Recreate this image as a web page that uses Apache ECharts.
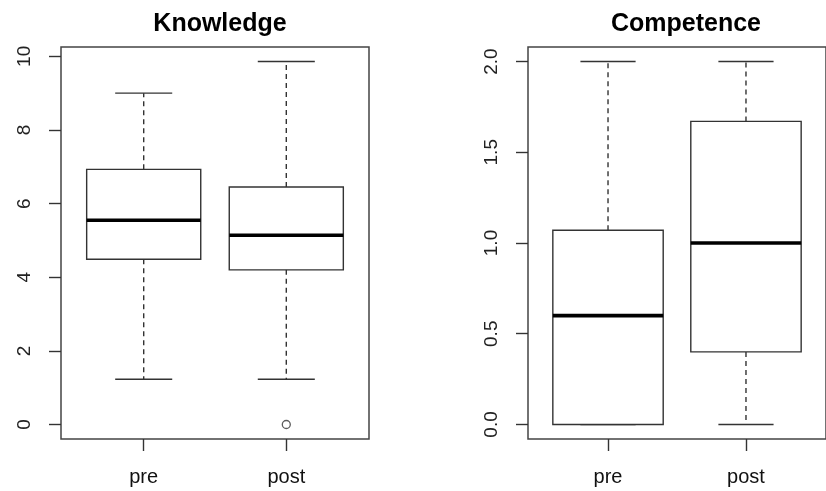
<!DOCTYPE html>
<html>
<head>
<meta charset="utf-8">
<script src="https://cdn.jsdelivr.net/npm/echarts@6/dist/echarts.min.js"></script>
<style>
  html, body { margin: 0; padding: 0; background: #fff; }
  #chart { width: 826px; height: 491px; }
</style>
</head>
<body>
<div id="chart"></div>
<script>
// Group labels and their positions on the x axis
const categories = ['pre', 'post'];
const positions = [1, 2];

// Five-number summaries: [lower whisker, Q1, median, Q3, upper whisker]
const knowledgePre = [1.23, 4.49, 5.55, 6.93, 9.0];
const knowledgePost = [1.23, 4.2, 5.14, 6.45, 9.86];
const knowledgeOutliers = [[2, 0]];

const competencePre = [0, 0, 0.6, 1.07, 2.0];
const competencePost = [0, 0.4, 1.0, 1.67, 2.0];

// Tick positions
const knowledgeTicks = [0, 2, 4, 6, 8, 10];
const competenceTicks = [0, 0.5, 1, 1.5, 2];

const lineColor = '#333';
const frameColor = '#444';
const font = '"Liberation Sans", Arial, sans-serif';

// Box-and-whisker glyph drawn through the axis scales
function renderBox(params, api) {
  const x = api.value(0);
  const lo = api.value(1), q1 = api.value(2), med = api.value(3), q3 = api.value(4), hi = api.value(5);
  const half = api.size([0.8, 0])[0] / 2;
  const capHalf = half / 2;
  const c = (v) => api.coord([x, v]);
  const pLo = c(lo), pQ1 = c(q1), pMed = c(med), pQ3 = c(q3), pHi = c(hi);
  const cx = pMed[0];
  const dashed = { stroke: lineColor, lineWidth: 1.4, lineDash: [5, 4], fill: null };
  const solid = { stroke: lineColor, lineWidth: 1.4, fill: null };
  const children = [];
  if (hi > q3) {
    children.push({ type: 'line', shape: { x1: cx, y1: pQ3[1], x2: cx, y2: pHi[1] }, style: dashed });
  }
  if (lo < q1) {
    children.push({ type: 'line', shape: { x1: cx, y1: pQ1[1], x2: cx, y2: pLo[1] }, style: dashed });
  }
  children.push({ type: 'line', shape: { x1: cx - capHalf, y1: pHi[1], x2: cx + capHalf, y2: pHi[1] }, style: solid });
  children.push({ type: 'line', shape: { x1: cx - capHalf, y1: pLo[1], x2: cx + capHalf, y2: pLo[1] }, style: solid });
  children.push({
    type: 'rect',
    shape: { x: cx - half, y: pQ3[1], width: half * 2, height: pQ1[1] - pQ3[1] },
    style: { stroke: lineColor, lineWidth: 1.4, fill: '#fff' }
  });
  children.push({
    type: 'line',
    shape: { x1: cx - half, y1: pMed[1], x2: cx + half, y2: pMed[1] },
    style: { stroke: '#000', lineWidth: 3.6 }
  });
  return { type: 'group', children };
}

function boxData(a, b) {
  return [[positions[0]].concat(a), [positions[1]].concat(b)];
}

function xAxisFor(gridIndex) {
  return {
    type: 'value', gridIndex, min: 0.42, max: 2.58, position: 'bottom',
    axisLine: { show: false, onZero: false },
    splitLine: { show: false },
    axisTick: { show: true, length: 12, inside: false, customValues: positions, lineStyle: { color: lineColor, width: 1.4 } },
    axisLabel: {
      customValues: positions, margin: 28, color: '#111', fontSize: 20, fontFamily: font,
      formatter: (v) => categories[positions.indexOf(Math.round(v))] || ''
    }
  };
}

function yAxisFor(gridIndex, min, max, ticks, fmt) {
  return {
    type: 'value', gridIndex, min, max, position: 'left',
    axisLine: { show: false, onZero: false },
    splitLine: { show: false },
    axisTick: { show: true, length: 12, inside: false, customValues: ticks, lineStyle: { color: lineColor, width: 1.4 } },
    axisLabel: {
      customValues: ticks, rotate: 90, margin: 27, color: '#222', fontSize: 19, fontFamily: font,
      formatter: fmt
    }
  };
}

const chart = echarts.init(document.getElementById('chart'), null, { renderer: 'canvas' });
chart.setOption({
  animation: false,
  backgroundColor: '#fff',
  title: [
    { text: 'Knowledge', left: 215, top: 7, textAlign: 'center',
      textStyle: { fontSize: 25, fontWeight: 'bold', color: '#000', fontFamily: font } },
    { text: 'Competence', left: 681, top: 7, textAlign: 'center',
      textStyle: { fontSize: 25, fontWeight: 'bold', color: '#000', fontFamily: font } }
  ],
  grid: [
    { left: 61, top: 47, width: 308, height: 392, show: true, borderColor: frameColor, borderWidth: 1.5, backgroundColor: 'transparent' },
    { left: 528, top: 47, width: 307, height: 392, show: true, borderColor: frameColor, borderWidth: 1.5, backgroundColor: 'transparent' }
  ],
  xAxis: [xAxisFor(0), xAxisFor(1)],
  yAxis: [
    yAxisFor(0, -0.394, 10.254, knowledgeTicks, (v) => String(Math.round(v))),
    yAxisFor(1, -0.08, 2.08, competenceTicks, (v) => v.toFixed(1))
  ],
  series: [
    {
      type: 'custom', xAxisIndex: 0, yAxisIndex: 0,
      data: boxData(knowledgePre, knowledgePost),
      renderItem: renderBox, clip: false
    },
    {
      type: 'scatter', xAxisIndex: 0, yAxisIndex: 0, z: 5,
      data: knowledgeOutliers, symbol: 'circle', symbolSize: 8,
      itemStyle: { color: '#fff', borderColor: lineColor, borderWidth: 1.3 }
    },
    {
      type: 'custom', xAxisIndex: 1, yAxisIndex: 1,
      data: boxData(competencePre, competencePost),
      renderItem: renderBox, clip: false
    }
  ]
});
</script>
</body>
</html>
